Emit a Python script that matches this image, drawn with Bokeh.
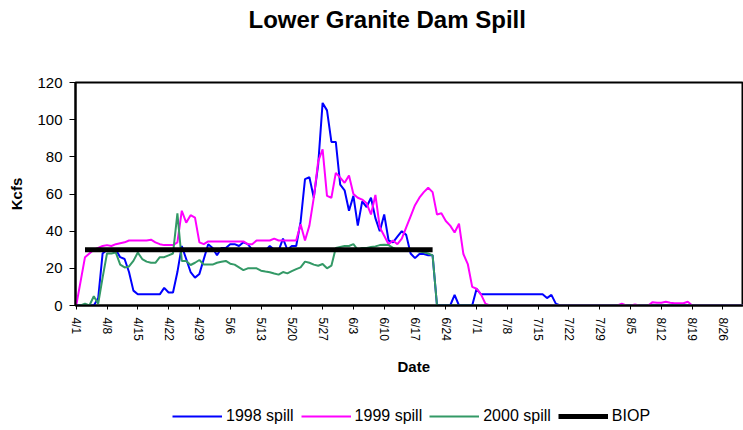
import math
from datetime import date
from bokeh.plotting import figure
from bokeh.layouts import column
from bokeh.models import (FixedTicker, Legend, LegendItem, Title,
                          ColumnDataSource, Range1d)
from bokeh.embed import file_html
from bokeh.resources import INLINE

# ---------------- data ----------------
season_start = "4/1"          # first day of every daily series
tick_labels = ["4/1", "4/8", "4/15", "4/22", "4/29", "5/6", "5/13", "5/20",
               "5/27", "6/3", "6/10", "6/17", "6/24", "7/1", "7/8", "7/15",
               "7/22", "7/29", "8/5", "8/12", "8/19", "8/26"]
y_ticks = [0, 20, 40, 60, 80, 100, 120]

# daily spill (kcfs), starting 4/1
spill_1998 = [
    0, 0, 0, 0, 0, 4, 28, 30, 30, 30,
    26, 25, 18, 8, 6, 6, 6, 6, 6, 6,
    9.5, 7, 7, 18, 32, 25, 18, 15, 17, 25,
    33, 31, 27, 31, 31, 33, 33, 32, 34, 33,
    30, 29.5, 29.5, 29.5, 32, 30, 29.5, 36, 30, 32,
    32, 45, 68, 69, 58, 76, 109, 105, 88, 88,
    65, 62, 51, 59, 43, 56, 53, 58, 47, 40,
    49, 35, 34, 37, 40, 38, 28, 25.5, 27.7, 27.7,
    27, 27, 0, 0, 0, 0, 5.7, 0, 0, 0,
    0, 9, 6, 6, 6, 6, 6, 6, 6, 6,
    6, 6, 6, 6, 6, 6, 6, 4, 5.7, 1,
    0, 0, 0, 0, 0, 0, 0, 0, 0, 0,
    0, 0, 0, 0, 0, 0, 0, 0, 0, 0,
    0, 0, 0, 0, 0, 0, 0, 0, 0, 0,
    0, 0, 0, 0, 0, 0, 0, 0, 0, 0,
    0, 0, 0,
]
spill_1999 = [
    0, 13, 26, 28, 30, 31, 32, 32.5, 32, 33,
    33.5, 34, 35, 35, 35, 35, 35, 35.4, 34, 33,
    32.5, 32.5, 32.5, 34, 51, 44.6, 48.6, 47.3, 34, 33,
    34.5, 34.5, 34.5, 34.5, 34.5, 34.5, 34.5, 34.5, 34.5, 33,
    33, 35, 35, 35, 35, 36, 35, 35, 35, 35,
    35, 43.7, 35, 43, 58, 77.7, 84, 59, 58, 71.4,
    68.8, 66, 70, 60, 58, 57, 55, 49, 59.5, 42,
    37.5, 33, 35, 33, 36, 42, 48, 54, 58, 61,
    63.4, 61, 49, 49.6, 45.5, 43, 39.3, 44, 27.7, 22.3,
    10, 9, 6, 1, 0, 0, 0, 0, 0, 0,
    0, 0, 0, 0, 0, 0, 0, 0, 0, 0,
    0, 0, 0, 0, 0, 0, 0, 0, 0, 0,
    0, 0, 0, 0, 1, 0, 0, 0.5, 0, 0,
    0, 1.8, 1.5, 1.5, 2, 1.5, 1.2, 1.2, 1.2, 2,
    0, 0, 0, 0, 0, 0, 0, 0, 0, 0,
    0, 0, 0,
]
spill_2000 = [
    0, 0, 1, 0, 5, 1, 15, 28, 28, 28.5,
    22, 20.5, 21, 24, 28.5, 25, 23.6, 23, 23, 26,
    26, 27, 28, 49.6, 24, 24, 21.8, 23, 24.5, 22,
    22, 22, 23, 23.5, 24, 22.5, 22, 20.5, 19, 20,
    20, 20, 18.75, 18.3, 17.9, 17.2, 16.6, 18, 17.3, 18.5,
    19.6, 20.5, 23.6, 23, 22, 21.4, 22.3, 20, 21.4, 31,
    31.5, 32, 32, 33, 30, 31, 31, 31.5, 31.8, 32.5,
    32.7, 32.5, 31, 30, 30, 30, 30, 29.5, 29, 28.6,
    28, 27, 0, 0, 0, 0, 0, 0, 0, 0,
    0, 0, 0, 0, 0, 0, 0, 0, 0, 0,
    0, 0, 0, 0, 0, 0, 0, 0, 0, 0,
    0, 0, 0, 0, 0, 0, 0, 0, 0, 0,
    0, 0, 0, 0, 0, 0, 0, 0, 0, 0,
    0, 0, 0, 0, 0, 0, 0, 0, 0, 0,
    0, 0, 0, 0, 0, 0, 0, 0, 0, 0,
    0, 0, 0,
]
biop_dates = ["4/3", "6/21"]
biop_values = [30, 30]

series_names = ["1998 spill", "1999 spill", "2000 spill", "BIOP"]
series_colors = ["#0000FF", "#FF00FF", "#339966", "#000000"]
series_widths = [2, 2, 2, 5]
chart_title = "Lower Granite Dam Spill"


def day_index(md):
    m, d = (int(v) for v in md.split("/"))
    m0, d0 = (int(v) for v in season_start.split("/"))
    return (date(2001, m, d) - date(2001, m0, d0)).days


FONT = "Liberation Sans"

# ---------- title strip ----------
tf = figure(width=743, height=37, output_backend="svg", toolbar_location=None,
            x_range=Range1d(0, 1), y_range=Range1d(0, 1),
            min_border_left=75, min_border_right=0, min_border_top=36,
            min_border_bottom=0, outline_line_color=None,
            x_axis_type=None, y_axis_type=None,
            background_fill_color="white", border_fill_color="white")
tf.xgrid.visible = False
tf.ygrid.visible = False
tf.title.text = chart_title
tf.title.align = "left"
tf.title.offset = 173
tf.title.vertical_align = "top"
tf.title.standoff = 4
tf.title.text_font = FONT
tf.title.text_font_size = "24px"
tf.title.text_font_style = "bold"
tf.title.text_color = "black"

# ---------- main chart ----------
p = figure(width=743, height=361, output_backend="svg", toolbar_location=None,
           x_range=Range1d(-0.16, 151.66), y_range=Range1d(0, 120),
           min_border_left=75, min_border_right=0, min_border_top=45,
           min_border_bottom=93, outline_line_color="black",
           outline_line_width=2,
           background_fill_color="white", border_fill_color="white")
p.xgrid.visible = False
p.ygrid.visible = False

xa = p.xaxis[0]
xa.ticker = FixedTicker(ticks=[day_index(t) for t in tick_labels])
xa.major_label_overrides = {day_index(t): t for t in tick_labels}
xa.major_label_orientation = -math.pi / 2
xa.major_label_text_font = FONT
xa.major_label_text_font_size = "12px"
xa.major_label_text_color = "black"
xa.major_label_standoff = 8
xa.major_tick_out = 4
xa.major_tick_in = 0
xa.minor_tick_out = 0
xa.minor_tick_in = 0
xa.axis_line_width = 2
xa.axis_line_color = "black"
xa.major_tick_line_color = "black"

ya = p.yaxis[0]
ya.ticker = FixedTicker(ticks=y_ticks)
ya.axis_label = "Kcfs"
ya.axis_label_text_font = FONT
ya.axis_label_text_font_size = "15px"
ya.axis_label_text_font_style = "bold"
ya.axis_label_text_color = "black"
ya.axis_label_standoff = 9
ya.major_label_text_font = FONT
ya.major_label_text_font_size = "15px"
ya.major_label_text_color = "black"
ya.major_label_standoff = 7
ya.major_tick_out = 6
ya.major_tick_in = 0
ya.minor_tick_out = 0
ya.minor_tick_in = 0
ya.axis_line_width = 2
ya.axis_line_color = "black"

p.add_layout(Title(text="Date", align="left", offset=322, vertical_align="top",
                   text_font=FONT, text_font_size="15px",
                   text_font_style="bold", text_color="black", standoff=28),
             "below")

sources = [ColumnDataSource(dict(x=list(range(len(v))), y=v))
           for v in (spill_1998, spill_1999, spill_2000)]
sources.append(ColumnDataSource(dict(x=[day_index(d) for d in biop_dates],
                                     y=biop_values)))
for src, color, w in zip(sources, series_colors, series_widths):
    p.line("x", "y", source=src, line_color=color, line_width=w)

# ---------- legend strip ----------
lg = figure(width=743, height=32, output_backend="svg", toolbar_location=None,
            x_range=Range1d(0, 1), y_range=Range1d(1000, 1001),
            min_border_left=75, min_border_right=0, min_border_top=0,
            min_border_bottom=0, outline_line_color=None,
            x_axis_type=None, y_axis_type=None,
            background_fill_color="white", border_fill_color="white")
lg.xgrid.visible = False
lg.ygrid.visible = False
items = []
for name, src, color, w in zip(series_names, sources, series_colors, series_widths):
    r = lg.line("x", "y", source=src, line_color=color, line_width=w)
    items.append(LegendItem(label=name, renderers=[r]))

legend = Legend(items=items, orientation="horizontal", location=(97, 5),
                padding=0, margin=0, spacing=7, label_standoff=4,
                glyph_width=50, glyph_height=18, label_height=18,
                label_text_font=FONT, label_text_font_size="16px",
                label_text_color="black", border_line_color=None,
                background_fill_alpha=0)
lg.add_layout(legend, "center")

layout = column(tf, p, lg, spacing=0)
open("out.html", "w").write(file_html(layout, INLINE))
